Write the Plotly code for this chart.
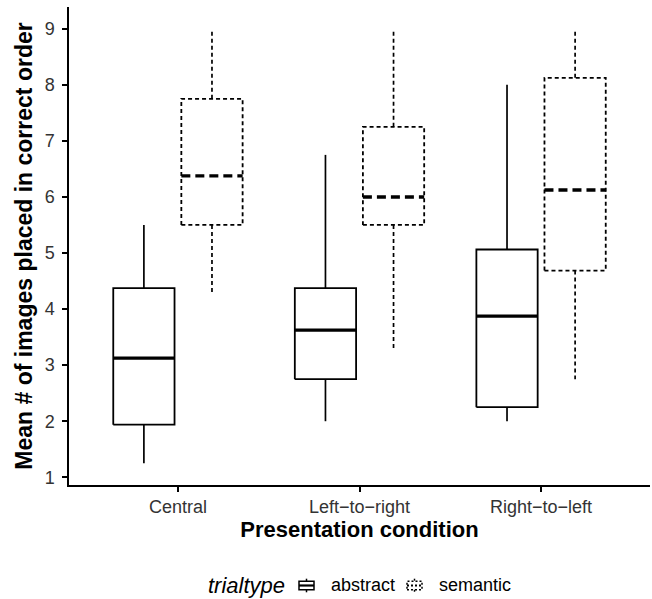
import plotly.graph_objects as go

conditions = ["Central", "Left\u2212to\u2212right", "Right\u2212to\u2212left"]

abstract_low = [1.25, 2.0, 2.0]
abstract_q1 = [1.9375, 2.75, 2.25]
abstract_med = [3.125, 3.625, 3.875]
abstract_q3 = [4.375, 4.375, 5.0625]
abstract_high = [5.5, 6.75, 8.0]

semantic_low = [4.29, 3.29, 2.75]
semantic_q1 = [5.5, 5.5, 4.6875]
semantic_med = [6.375, 6.0, 6.125]
semantic_q3 = [7.75, 7.25, 8.125]
semantic_high = [9.0, 9.0, 9.0]

y_ticks = [1, 2, 3, 4, 5, 6, 7, 8, 9]

FONT = "Liberation Sans, Arial, sans-serif"
DODGE = 0.1875
HALF = 0.16875

fig = go.Figure()


def add_boxes(offset, low, q1, med, q3, high, dash, mdash, name):
    for i in range(len(conditions)):
        c = i + 1 + offset
        x0, x1 = c - HALF, c + HALF
        fig.add_trace(go.Scatter(
            x=[x0, x1, x1, x0, x0], y=[q1[i], q1[i], q3[i], q3[i], q1[i]],
            mode="lines", line=dict(color="black", width=1.8, dash=dash),
            showlegend=False, hoverinfo="skip", name=name))
        fig.add_trace(go.Scatter(
            x=[c, c, None, c, c], y=[q3[i], high[i], None, q1[i], low[i]],
            mode="lines", line=dict(color="black", width=1.7, dash=dash),
            showlegend=False, hoverinfo="skip", name=name))
        fig.add_trace(go.Scatter(
            x=[x0, x1], y=[med[i], med[i]],
            mode="lines", line=dict(color="black", width=3.4, dash=mdash),
            showlegend=False, hoverinfo="skip", name=name))


add_boxes(-DODGE, abstract_low, abstract_q1, abstract_med, abstract_q3, abstract_high,
          "solid", "solid", "abstract")
add_boxes(DODGE, semantic_low, semantic_q1, semantic_med, semantic_q3, semantic_high,
          "4px,3px", "9px,5px", "semantic")

L, R, T, B = 69, 2, 7, 114
W, H = 652, 599
PW, PH = W - L - R, H - T - B


def px(xp):
    return (xp - L) / PW


def py(yp):
    return (H - B - yp) / PH


shapes = []


def key_icon(x0p, dash):
    x1p = x0p + 15
    ytop, ybot = 577, 594
    h = ybot - ytop
    xm = (x0p + x1p) / 2
    bt, bb = ytop + 0.25 * h, ytop + 0.75 * h
    ym = (ytop + ybot) / 2
    ln = dict(color="black", width=1.5, dash=dash)
    shapes.append(dict(type="rect", xref="paper", yref="paper",
                       x0=px(x0p), x1=px(x1p), y0=py(bb), y1=py(bt), line=ln))
    shapes.append(dict(type="line", xref="paper", yref="paper",
                       x0=px(xm), x1=px(xm), y0=py(ytop + 0.1 * h), y1=py(bt), line=ln))
    shapes.append(dict(type="line", xref="paper", yref="paper",
                       x0=px(xm), x1=px(xm), y0=py(bb), y1=py(ytop + 0.9 * h), line=ln))
    shapes.append(dict(type="line", xref="paper", yref="paper",
                       x0=px(x0p), x1=px(x1p), y0=py(ym), y1=py(ym),
                       line=dict(color="black", width=2.2, dash=dash)))


key_icon(299, "solid")
key_icon(407, "2px,2px")

annotations = [
    dict(text="<i>trialtype</i>", x=px(206), y=py(585), xref="paper", yref="paper",
         xanchor="left", yanchor="middle", showarrow=False,
         font=dict(family=FONT, size=22, color="black")),
    dict(text="abstract", x=px(329), y=py(585), xref="paper", yref="paper",
         xanchor="left", yanchor="middle", showarrow=False,
         font=dict(family=FONT, size=18, color="black")),
    dict(text="semantic", x=px(437), y=py(585), xref="paper", yref="paper",
         xanchor="left", yanchor="middle", showarrow=False,
         font=dict(family=FONT, size=18, color="black")),
]

fig.update_layout(
    width=W, height=H,
    margin=dict(l=L, r=R, t=T, b=B),
    plot_bgcolor="white", paper_bgcolor="white",
    showlegend=False,
    shapes=shapes,
    annotations=annotations,
    xaxis=dict(
        range=[0.4, 3.6],
        tickmode="array", tickvals=[1, 2, 3], ticktext=conditions,
        showline=True, linecolor="black", linewidth=1.5,
        ticks="outside", ticklen=5, tickwidth=1.5, tickcolor="black",
        showgrid=False, zeroline=False,
        tickfont=dict(family=FONT, size=18, color="#333333"),
        title=dict(text="<b>Presentation condition</b>", standoff=4,
                   font=dict(family=FONT, size=22, color="black")),
    ),
    yaxis=dict(
        range=[0.8625, 9.3875],
        tickmode="array", tickvals=y_ticks, ticktext=[str(v) for v in y_ticks],
        showline=True, linecolor="black", linewidth=1.5,
        ticks="outside", ticklen=5, tickwidth=1.5, tickcolor="black",
        ticklabelstandoff=4,
        showgrid=False, zeroline=False,
        tickfont=dict(family=FONT, size=18, color="#333333"),
        title=dict(text="<b>Mean # of images placed in correct order</b>", standoff=6,
                   font=dict(family=FONT, size=23, color="black")),
    ),
)

fig.write_html("out.html",
               config={"displayModeBar": False},
               post_script="document.body.style.margin='0';document.body.style.padding='0';")
